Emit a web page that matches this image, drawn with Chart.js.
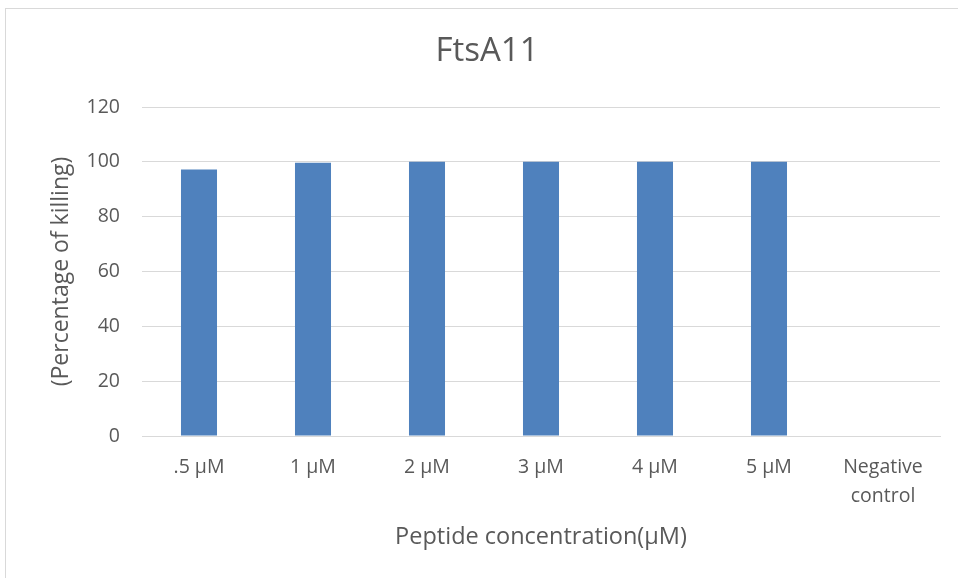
<!DOCTYPE html>
<html>
<head>
<meta charset="utf-8">
<script src="https://cdn.jsdelivr.net/npm/chart.js@4.4.1/dist/chart.umd.min.js"></script>
<style>
  html, body { margin: 0; padding: 0; background: #fff; overflow: hidden; }
  #frame { position: absolute; left: 5px; top: 8px; width: 1000px; height: 620px; border: 1px solid #d9d9d9; box-sizing: border-box; }
  #wrap { position: absolute; left: 0; top: 0; width: 958px; height: 578px; }
</style>
</head>
<body>
<div id="frame"></div>
<div id="wrap"><canvas id="killChart"></canvas></div>
<script>
const labels = ['.5 µM', '1 µM', '2 µM', '3 µM', '4 µM', '5 µM', ['Negative', 'control']];
const killing = [97.2, 99.7, 100, 100, 100, 100, 0];
const yTicks = [0, 20, 40, 60, 80, 100, 120];

const grey = '#595959';
const fontFamily = '"Open Sans", "Liberation Sans", sans-serif';

const ctx = document.getElementById('killChart').getContext('2d');
new Chart(ctx, {
    type: 'bar',
    data: {
        labels: labels,
        datasets: [{
            label: 'FtsA11',
            data: killing,
            backgroundColor: '#4f81bd',
            borderWidth: 0,
            barPercentage: 0.316,
            categoryPercentage: 1.0
        }]
    },
    options: {
        responsive: true,
        maintainAspectRatio: false,
        animation: false,
        layout: { padding: { left: 34, right: 18, top: 0, bottom: 0 } },
        plugins: {
            legend: { display: false },
            tooltip: { enabled: false },
            title: {
                display: true,
                text: 'FtsA11',
                color: grey,
                font: { family: fontFamily, size: 33, weight: 'normal', lineHeight: 1.2 },
                padding: { top: 32, bottom: 35.4 }
            }
        },
        scales: {
            x: {
                afterFit: s => { s.height = 142; },
                grid: { display: false, drawTicks: false },
                border: { display: true, color: '#d9d9d9', width: 1 },
                ticks: {
                    color: grey,
                    font: { family: fontFamily, size: 19.5, lineHeight: 1.49 },
                    padding: 16.5,
                    maxRotation: 0,
                    autoSkip: false
                },
                title: {
                    display: true,
                    text: 'Peptide concentration(µM)',
                    color: grey,
                    font: { family: fontFamily, size: 23.5, lineHeight: 1.2 },
                    padding: { top: 0, bottom: 27 }
                }
            },
            y: {
                min: 0,
                max: 120,
                afterFit: s => { s.width = 108; },
                afterBuildTicks: axis => { axis.ticks = yTicks.map(v => ({ value: v })); },
                grid: { color: '#d9d9d9', drawTicks: false },
                border: { display: false },
                ticks: {
                    color: grey,
                    font: { family: fontFamily, size: 19.5 },
                    padding: 22
                },
                title: {
                    display: true,
                    text: '(Percentage of killing)',
                    color: grey,
                    font: { family: fontFamily, size: 23, lineHeight: 1.2 },
                    padding: { top: 14, bottom: 0 }
                }
            }
        }
    }
});
</script>
</body>
</html>
